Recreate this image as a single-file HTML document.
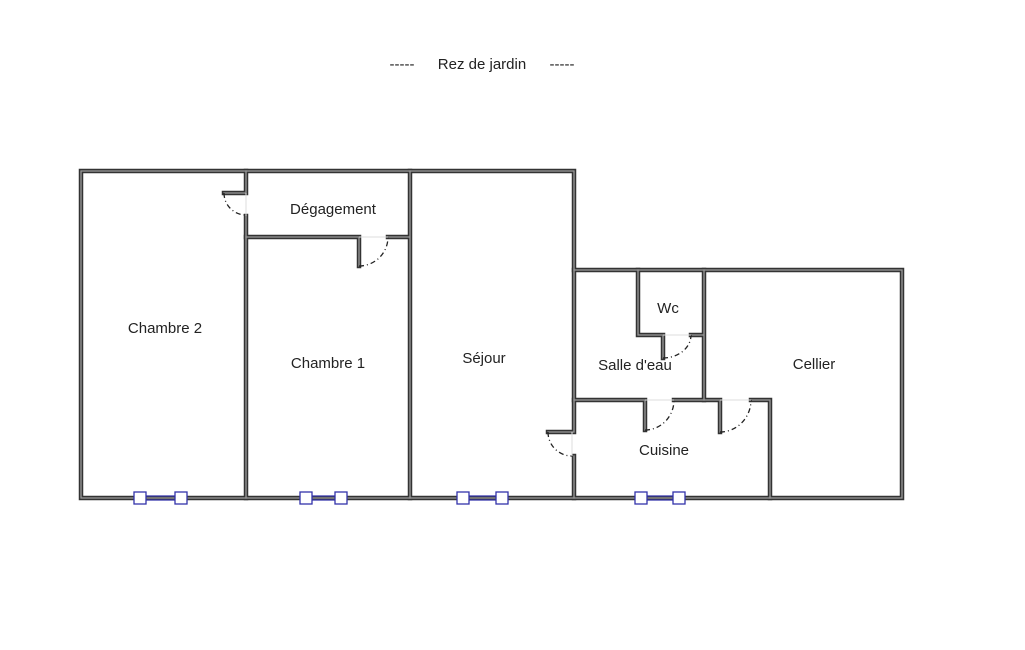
<!DOCTYPE html>
<html><head><meta charset="utf-8"><style>
html,body{margin:0;padding:0;background:#fff;}
svg{display:block;}
text{font-family:"Liberation Sans","DejaVu Sans",sans-serif;font-size:15px;fill:#222;}
</style></head><body>
<svg width="1025" height="650" viewBox="0 0 1025 650" xmlns="http://www.w3.org/2000/svg">
<text x="402" y="69" text-anchor="middle">-----</text>
<text x="482" y="69" text-anchor="middle">Rez de jardin</text>
<text x="562" y="69" text-anchor="middle">-----</text>
<g stroke="#333" stroke-width="4.5" fill="none" stroke-linecap="square">
<path d="M81 171 H574 M81 171 V498 H902 V270 H574 M574 171 V270"/>
<path d="M246 171 V193 H224 M246 216 V498"/>
<path d="M246 237 H359 V266 M388 237 H410 M410 171 V498"/>
<path d="M574 270 V432 H548 M574 456 V498"/>
<path d="M638 270 V335 H663 V358 M691 335 H704 M704 270 V400"/>
<path d="M574 400 H645 V430 M674 400 H720 V432 M751 400 H770 V498"/>
</g>
<g stroke="#9a9a9a" stroke-width="1.3" fill="none" stroke-linecap="square">
<path d="M81 171 H574 M81 171 V498 H902 V270 H574 M574 171 V270"/>
<path d="M246 171 V193 H224 M246 216 V498"/>
<path d="M246 237 H359 V266 M388 237 H410 M410 171 V498"/>
<path d="M574 270 V432 H548 M574 456 V498"/>
<path d="M638 270 V335 H663 V358 M691 335 H704 M704 270 V400"/>
<path d="M574 400 H645 V430 M674 400 H720 V432 M751 400 H770 V498"/>
</g>
<g stroke="#222" stroke-width="1.3" fill="none" stroke-dasharray="5,3,1,3">
<path d="M224 193 A22 22 0 0 0 246 215"/>
<path d="M359 266 A29 29 0 0 0 388 237"/>
<path d="M548 432 A24 24 0 0 0 572 456"/>
<path d="M663 358 A28 23 0 0 0 691 335"/>
<path d="M645 430 A29 30 0 0 0 674 400"/>
<path d="M720 432 A31 32 0 0 0 751 400"/>
</g>
<g stroke="#ddd" stroke-width="1" fill="none">
<path d="M246 193 V216 M359 237 H388 M572 432 V456 M663 335 H691 M645 400 H674 M720 400 H751"/>
</g>
<g stroke="#3333aa" stroke-width="1.3" fill="#fff">
<path d="M146 496 H175 M146 500 H175 M312 496 H335 M312 500 H335 M469 496 H496 M469 500 H496 M647 496 H673 M647 500 H673" fill="none"/>
<rect x="134" y="492" width="12" height="12"/><rect x="175" y="492" width="12" height="12"/>
<rect x="300" y="492" width="12" height="12"/><rect x="335" y="492" width="12" height="12"/>
<rect x="457" y="492" width="12" height="12"/><rect x="496" y="492" width="12" height="12"/>
<rect x="635" y="492" width="12" height="12"/><rect x="673" y="492" width="12" height="12"/>
</g>
<text x="165" y="333" text-anchor="middle">Chambre 2</text>
<text x="333" y="214" text-anchor="middle">Dégagement</text>
<text x="328" y="368" text-anchor="middle">Chambre 1</text>
<text x="484" y="363" text-anchor="middle">Séjour</text>
<text x="668" y="313" text-anchor="middle">Wc</text>
<text x="635" y="370" text-anchor="middle">Salle d'eau</text>
<text x="814" y="369" text-anchor="middle">Cellier</text>
<text x="664" y="455" text-anchor="middle">Cuisine</text>
</svg>
</body></html>
